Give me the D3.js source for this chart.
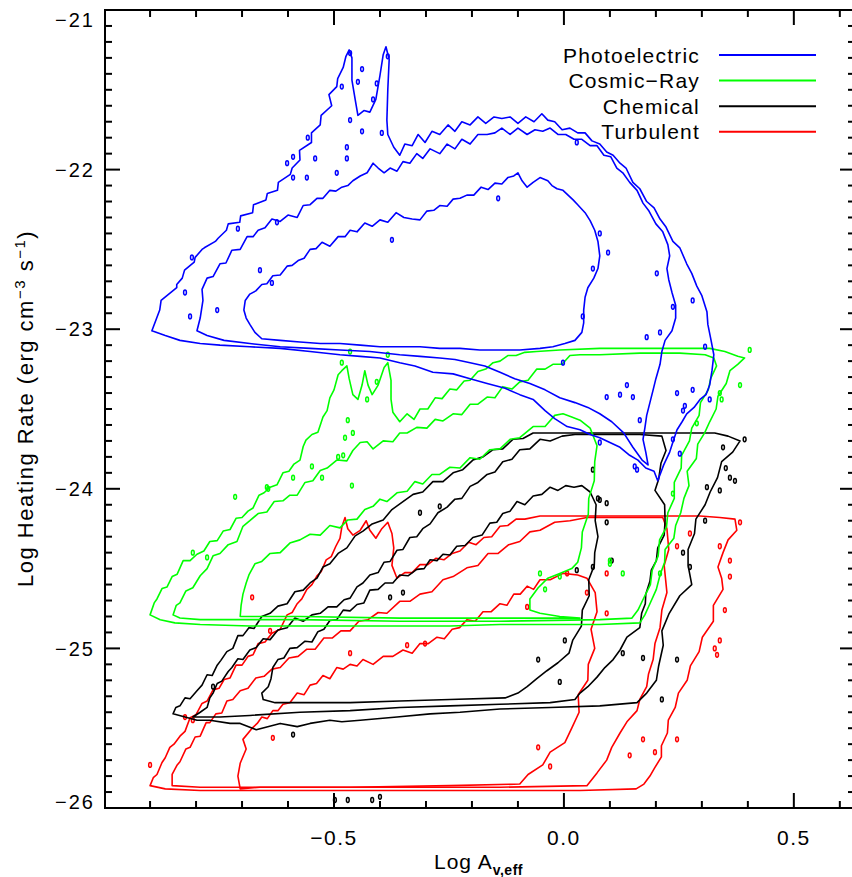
<!DOCTYPE html>
<html>
<head>
<meta charset="utf-8">
<script src="https://cdn.jsdelivr.net/npm/d3@7/dist/d3.min.js"></script>
<style>
  html, body { margin: 0; padding: 0; background: #fff; }
  svg { display: block; }
  text { font-family: "Liberation Sans", Arial, Helvetica, sans-serif; fill: #000; }
</style>
</head>
<body>
<script>
// Heating-rate vs. effective extinction: contour levels of four heating processes.

const xDomain = [-0.998, 0.633];
const yDomain = [-26, -21];

const xMajorTicks = [-0.5, 0.0, 0.5];
const xMajorLabels = ["\u22120.5", "0.0", "0.5"];
const yMajorTicks = [-26, -25, -24, -23, -22, -21];
const yMajorLabels = ["\u221226", "\u221225", "\u221224", "\u221223", "\u221222", "\u221221"];

const seriesNames = ["Photoelectric", "Cosmic\u2212Ray", "Chemical", "Turbulent"];
const seriesColors = ["#0000ff", "#00ff00", "#000000", "#ff0000"];

// ---- Photoelectric contours ----
const photoOuter = [
[-0.896,-23.01],[-0.879,-22.88],[-0.876,-22.82],[-0.842,-22.74],[-0.842,-22.72],[-0.830,-22.68],[-0.825,-22.63],
[-0.804,-22.58],[-0.802,-22.55],[-0.787,-22.50],[-0.782,-22.49],[-0.758,-22.45],[-0.752,-22.43],[-0.734,-22.38],
[-0.730,-22.34],[-0.705,-22.33],[-0.703,-22.29],[-0.677,-22.27],[-0.675,-22.22],[-0.648,-22.19],[-0.645,-22.15],
[-0.623,-22.13],[-0.621,-22.08],[-0.595,-22.03],[-0.591,-21.99],[-0.574,-21.94],[-0.575,-21.88],[-0.549,-21.83],
[-0.549,-21.77],[-0.530,-21.72],[-0.528,-21.66],[-0.505,-21.60],[-0.511,-21.53],[-0.494,-21.48],[-0.492,-21.43],
[-0.480,-21.36],[-0.474,-21.29],[-0.467,-21.25],[-0.461,-21.30],[-0.461,-21.44],[-0.454,-21.56],[-0.448,-21.66],
[-0.435,-21.63],[-0.422,-21.64],[-0.409,-21.56],[-0.400,-21.41],[-0.393,-21.28],[-0.387,-21.23],[-0.380,-21.31],
[-0.383,-21.50],[-0.385,-21.69],[-0.383,-21.78],[-0.370,-21.86],[-0.357,-21.91],[-0.346,-21.84],[-0.330,-21.85],
[-0.317,-21.78],[-0.302,-21.83],[-0.287,-21.76],[-0.270,-21.78],[-0.252,-21.72],[-0.237,-21.76],[-0.222,-21.70],
[-0.204,-21.72],[-0.187,-21.67],[-0.170,-21.71],[-0.152,-21.67],[-0.135,-21.68],[-0.117,-21.67],[-0.100,-21.71],
[-0.083,-21.67],[-0.065,-21.70],[-0.048,-21.65],[-0.035,-21.69],[-0.020,-21.70],[-0.004,-21.75],[0.013,-21.74],
[0.030,-21.77],[0.046,-21.77],[0.061,-21.82],[0.078,-21.84],[0.093,-21.89],[0.107,-21.91],[0.122,-21.96],
[0.135,-21.99],[0.150,-22.08],[0.165,-22.12],[0.180,-22.20],[0.196,-22.24],[0.209,-22.31],[0.222,-22.36],
[0.237,-22.45],[0.252,-22.49],[0.267,-22.59],[0.278,-22.65],[0.289,-22.73],[0.300,-22.79],[0.311,-22.89],
[0.313,-22.97],[0.320,-23.07],[0.326,-23.16],[0.322,-23.26],[0.317,-23.35],[0.309,-23.41],[0.296,-23.44],
[0.283,-23.49],[0.267,-23.53],[0.257,-23.58],[0.246,-23.63],[0.239,-23.69],[0.230,-23.77],[0.217,-23.85],
[0.204,-23.95],[0.196,-23.89],[0.178,-23.87],[0.161,-23.82],[0.143,-23.79],[0.122,-23.74],[0.100,-23.71],
[0.078,-23.68],[0.057,-23.66],[0.035,-23.63],[0.007,-23.61],[-0.020,-23.56],[-0.041,-23.51],[-0.067,-23.44],
[-0.096,-23.41],[-0.128,-23.37],[-0.167,-23.34],[-0.204,-23.31],[-0.241,-23.28],[-0.285,-23.27],[-0.324,-23.23],
[-0.357,-23.21],[-0.400,-23.18],[-0.443,-23.17],[-0.487,-23.16],[-0.552,-23.14],[-0.617,-23.12],[-0.683,-23.11],
[-0.748,-23.10],[-0.791,-23.09],[-0.835,-23.07],[-0.867,-23.04]
];
const photoMiddle = [
[-0.798,-23.01],[-0.791,-22.93],[-0.785,-22.82],[-0.787,-22.75],[-0.776,-22.68],[-0.763,-22.67],[-0.748,-22.59],
[-0.735,-22.585],[-0.722,-22.505],[-0.704,-22.50],[-0.689,-22.42],[-0.676,-22.42],[-0.665,-22.38],[-0.650,-22.365],
[-0.635,-22.31],[-0.617,-22.325],[-0.600,-22.285],[-0.580,-22.30],[-0.567,-22.225],[-0.552,-22.22],[-0.537,-22.18],
[-0.524,-22.18],[-0.509,-22.13],[-0.496,-22.135],[-0.483,-22.11],[-0.470,-22.10],[-0.459,-22.07],[-0.443,-22.04],
[-0.428,-22.02],[-0.415,-21.96],[-0.404,-21.99],[-0.391,-22.02],[-0.378,-21.99],[-0.363,-22.01],[-0.350,-21.95],
[-0.335,-21.96],[-0.320,-21.90],[-0.307,-21.93],[-0.291,-21.87],[-0.270,-21.90],[-0.254,-21.84],[-0.237,-21.87],
[-0.222,-21.81],[-0.204,-21.84],[-0.187,-21.78],[-0.167,-21.78],[-0.150,-21.77],[-0.135,-21.74],[-0.117,-21.78],
[-0.100,-21.74],[-0.080,-21.78],[-0.063,-21.75],[-0.046,-21.76],[-0.030,-21.74],[-0.013,-21.78],[0.004,-21.78],
[0.022,-21.81],[0.039,-21.81],[0.057,-21.85],[0.072,-21.85],[0.087,-21.91],[0.102,-21.92],[0.115,-21.99],
[0.128,-22.02],[0.143,-22.08],[0.159,-22.13],[0.172,-22.21],[0.185,-22.26],[0.200,-22.34],[0.215,-22.39],
[0.226,-22.47],[0.230,-22.54],[0.224,-22.62],[0.228,-22.69],[0.235,-22.77],[0.243,-22.85],[0.243,-22.93],
[0.235,-23.01],[0.220,-23.07],[0.213,-23.14],[0.209,-23.22],[0.200,-23.31],[0.194,-23.38],[0.187,-23.46],
[0.180,-23.54],[0.176,-23.62],[0.172,-23.69],[0.178,-23.77],[0.183,-23.85],[0.170,-23.82],[0.150,-23.74],
[0.130,-23.65],[0.104,-23.58],[0.078,-23.53],[0.052,-23.49],[0.024,-23.46],[-0.009,-23.43],[-0.041,-23.38],
[-0.074,-23.34],[-0.107,-23.31],[-0.139,-23.27],[-0.172,-23.23],[-0.204,-23.21],[-0.237,-23.19],[-0.270,-23.18],
[-0.313,-23.17],[-0.357,-23.16],[-0.422,-23.14],[-0.487,-23.13],[-0.552,-23.12],[-0.617,-23.11],[-0.683,-23.09],
[-0.739,-23.07],[-0.776,-23.04]
];
const photoInner = [
[-0.693,-22.82],[-0.683,-22.78],[-0.670,-22.76],[-0.657,-22.72],[-0.646,-22.715],[-0.633,-22.665],[-0.617,-22.66],
[-0.602,-22.605],[-0.591,-22.60],[-0.578,-22.57],[-0.565,-22.555],[-0.552,-22.50],[-0.539,-22.495],[-0.526,-22.455],
[-0.509,-22.48],[-0.491,-22.42],[-0.476,-22.42],[-0.465,-22.38],[-0.450,-22.39],[-0.433,-22.335],[-0.417,-22.355],
[-0.400,-22.315],[-0.383,-22.33],[-0.365,-22.27],[-0.348,-22.30],[-0.330,-22.31],[-0.313,-22.315],[-0.298,-22.26],
[-0.283,-22.255],[-0.270,-22.225],[-0.254,-22.23],[-0.241,-22.185],[-0.226,-22.18],[-0.211,-22.16],[-0.196,-22.16],
[-0.180,-22.11],[-0.165,-22.125],[-0.150,-22.085],[-0.135,-22.09],[-0.122,-22.05],[-0.109,-22.04],[-0.100,-22.02],
[-0.091,-22.07],[-0.080,-22.11],[-0.067,-22.08],[-0.052,-22.05],[-0.035,-22.07],[-0.026,-22.10],[-0.015,-22.12],
[-0.002,-22.13],[0.009,-22.16],[0.020,-22.19],[0.030,-22.22],[0.046,-22.27],[0.057,-22.32],[0.067,-22.38],
[0.074,-22.45],[0.078,-22.54],[0.074,-22.62],[0.065,-22.68],[0.052,-22.74],[0.046,-22.80],[0.043,-22.88],
[0.043,-22.96],[0.039,-23.02],[0.024,-23.07],[0.002,-23.09],[-0.024,-23.11],[-0.052,-23.12],[-0.096,-23.13],
[-0.139,-23.13],[-0.183,-23.13],[-0.226,-23.12],[-0.270,-23.12],[-0.313,-23.11],[-0.357,-23.11],[-0.400,-23.11],
[-0.443,-23.10],[-0.487,-23.09],[-0.530,-23.09],[-0.574,-23.08],[-0.617,-23.07],[-0.657,-23.06],[-0.672,-23.02],
[-0.683,-22.97],[-0.691,-22.93],[-0.696,-22.88]
];

// ---- Cosmic-ray contours ----
const cosmicOuter = [
[-0.900,-24.79],[-0.891,-24.715],[-0.885,-24.69],[-0.874,-24.625],[-0.863,-24.615],[-0.852,-24.55],[-0.841,-24.535],
[-0.828,-24.45],[-0.813,-24.45],[-0.798,-24.41],[-0.783,-24.39],[-0.770,-24.33],[-0.754,-24.325],[-0.741,-24.265],
[-0.726,-24.255],[-0.713,-24.185],[-0.700,-24.18],[-0.687,-24.14],[-0.676,-24.12],[-0.663,-24.04],[-0.652,-24.025],
[-0.639,-23.99],[-0.624,-23.975],[-0.611,-23.90],[-0.598,-23.89],[-0.587,-23.845],[-0.574,-23.82],[-0.567,-23.735],
[-0.561,-23.695],[-0.548,-23.66],[-0.535,-23.645],[-0.524,-23.55],[-0.515,-23.51],[-0.509,-23.43],[-0.500,-23.38],
[-0.491,-23.285],[-0.483,-23.26],[-0.472,-23.23],[-0.467,-23.31],[-0.459,-23.41],[-0.448,-23.44],[-0.439,-23.35],
[-0.433,-23.26],[-0.426,-23.35],[-0.417,-23.41],[-0.404,-23.35],[-0.391,-23.24],[-0.383,-23.21],[-0.376,-23.32],
[-0.376,-23.44],[-0.372,-23.52],[-0.357,-23.58],[-0.341,-23.53],[-0.326,-23.565],[-0.313,-23.50],[-0.296,-23.50],
[-0.280,-23.43],[-0.265,-23.435],[-0.248,-23.375],[-0.233,-23.38],[-0.217,-23.325],[-0.204,-23.32],[-0.187,-23.265],
[-0.170,-23.25],[-0.154,-23.21],[-0.139,-23.20],[-0.122,-23.165],[-0.104,-23.165],[-0.085,-23.145],[-0.059,-23.14],
[-0.009,-23.13],[0.078,-23.12],[0.165,-23.12],[0.252,-23.12],[0.317,-23.12],[0.350,-23.14],[0.378,-23.17],
[0.393,-23.18],[0.378,-23.22],[0.361,-23.26],[0.353,-23.34],[0.335,-23.42],[0.331,-23.50],[0.317,-23.58],
[0.306,-23.65],[0.291,-23.72],[0.288,-23.81],[0.268,-23.89],[0.272,-23.98],[0.261,-24.06],[0.254,-24.15],
[0.243,-24.23],[0.239,-24.31],[0.220,-24.38],[0.219,-24.46],[0.209,-24.54],[0.201,-24.63],[0.187,-24.72],
[0.176,-24.79],[0.165,-24.84],[0.078,-24.85],[-0.030,-24.85],[-0.139,-24.85],[-0.248,-24.86],[-0.357,-24.86],
[-0.465,-24.86],[-0.574,-24.86],[-0.683,-24.86],[-0.791,-24.85],[-0.846,-24.84],[-0.878,-24.82]
];
const cosmicMiddle = [
[-0.850,-24.79],[-0.843,-24.73],[-0.835,-24.715],[-0.822,-24.64],[-0.807,-24.62],[-0.791,-24.545],[-0.776,-24.50],
[-0.763,-24.42],[-0.748,-24.405],[-0.730,-24.35],[-0.711,-24.33],[-0.698,-24.235],[-0.683,-24.20],[-0.665,-24.155],
[-0.646,-24.145],[-0.630,-24.08],[-0.611,-24.075],[-0.596,-24.04],[-0.580,-24.04],[-0.563,-23.96],[-0.546,-23.95],
[-0.530,-23.885],[-0.515,-23.87],[-0.494,-23.82],[-0.472,-23.825],[-0.459,-23.76],[-0.443,-23.71],[-0.428,-23.705],
[-0.415,-23.75],[-0.393,-23.70],[-0.372,-23.705],[-0.357,-23.65],[-0.341,-23.65],[-0.320,-23.615],[-0.298,-23.62],
[-0.280,-23.565],[-0.263,-23.575],[-0.241,-23.53],[-0.222,-23.535],[-0.204,-23.47],[-0.187,-23.47],[-0.167,-23.425],
[-0.150,-23.43],[-0.133,-23.36],[-0.113,-23.375],[-0.096,-23.33],[-0.078,-23.32],[-0.059,-23.25],[-0.041,-23.25],
[-0.024,-23.22],[-0.004,-23.22],[0.013,-23.165],[0.035,-23.16],[0.078,-23.16],[0.165,-23.15],[0.252,-23.15],
[0.307,-23.16],[0.326,-23.18],[0.332,-23.23],[0.319,-23.31],[0.314,-23.38],[0.297,-23.46],[0.294,-23.54],
[0.278,-23.62],[0.273,-23.70],[0.256,-23.79],[0.255,-23.87],[0.240,-23.96],[0.240,-24.06],[0.226,-24.15],
[0.223,-24.24],[0.208,-24.32],[0.205,-24.42],[0.192,-24.51],[0.188,-24.60],[0.171,-24.70],[0.161,-24.76],
[0.148,-24.81],[0.078,-24.82],[-0.139,-24.83],[-0.357,-24.83],[-0.574,-24.82],[-0.791,-24.82],[-0.835,-24.81]
];
const cosmicInner = [
[-0.704,-24.80],[-0.702,-24.73],[-0.698,-24.66],[-0.691,-24.59],[-0.685,-24.54],[-0.672,-24.47],[-0.657,-24.455],
[-0.639,-24.405],[-0.617,-24.40],[-0.596,-24.34],[-0.574,-24.32],[-0.552,-24.285],[-0.530,-24.29],[-0.509,-24.23],
[-0.487,-24.245],[-0.470,-24.195],[-0.450,-24.19],[-0.433,-24.13],[-0.415,-24.11],[-0.400,-24.065],[-0.385,-24.08],
[-0.363,-24.025],[-0.341,-24.015],[-0.324,-23.955],[-0.307,-23.97],[-0.287,-23.91],[-0.270,-23.91],[-0.248,-23.865],
[-0.226,-23.87],[-0.204,-23.805],[-0.183,-23.815],[-0.161,-23.755],[-0.139,-23.75],[-0.117,-23.69],[-0.096,-23.68],
[-0.067,-23.61],[-0.041,-23.61],[-0.020,-23.54],[-0.002,-23.53],[0.017,-23.55],[0.035,-23.57],[0.057,-23.62],
[0.072,-23.73],[0.067,-23.83],[0.066,-23.95],[0.054,-24.06],[0.053,-24.16],[0.040,-24.27],[0.038,-24.37],
[0.030,-24.46],[0.017,-24.50],[-0.009,-24.53],[-0.035,-24.56],[-0.056,-24.62],[-0.074,-24.69],[-0.074,-24.76],
[-0.052,-24.78],[-0.009,-24.80],[0.035,-24.81],[-0.139,-24.81],[-0.357,-24.81],[-0.574,-24.80]
];

// ---- Chemical contours ----
const chemOuter = [
[-0.850,-25.41],[-0.844,-25.37],[-0.835,-25.36],[-0.824,-25.31],[-0.813,-25.315],[-0.798,-25.265],[-0.787,-25.23],
[-0.776,-25.165],[-0.765,-25.17],[-0.754,-25.105],[-0.746,-25.075],[-0.733,-25.02],[-0.720,-25.00],[-0.709,-24.92],
[-0.698,-24.92],[-0.685,-24.87],[-0.674,-24.875],[-0.657,-24.80],[-0.639,-24.78],[-0.622,-24.735],[-0.602,-24.72],
[-0.585,-24.645],[-0.567,-24.635],[-0.552,-24.59],[-0.537,-24.56],[-0.524,-24.49],[-0.509,-24.47],[-0.491,-24.405],
[-0.472,-24.37],[-0.454,-24.295],[-0.437,-24.265],[-0.417,-24.22],[-0.393,-24.195],[-0.374,-24.13],[-0.350,-24.08],
[-0.328,-24.035],[-0.307,-24.02],[-0.285,-23.955],[-0.263,-23.955],[-0.241,-23.90],[-0.220,-23.88],[-0.198,-23.82],
[-0.176,-23.80],[-0.154,-23.755],[-0.133,-23.75],[-0.111,-23.69],[-0.089,-23.685],[-0.067,-23.65],[-0.009,-23.65],
[0.078,-23.65],[0.165,-23.65],[0.252,-23.65],[0.328,-23.65],[0.357,-23.67],[0.383,-23.70],[0.367,-23.77],
[0.343,-23.83],[0.334,-23.93],[0.318,-24.02],[0.307,-24.10],[0.287,-24.19],[0.284,-24.28],[0.270,-24.38],
[0.270,-24.48],[0.278,-24.60],[0.252,-24.67],[0.229,-24.78],[0.213,-24.89],[0.216,-24.98],[0.206,-25.11],
[0.201,-25.20],[0.180,-25.28],[0.159,-25.34],[0.078,-25.36],[-0.030,-25.37],[-0.139,-25.38],[-0.226,-25.40],
[-0.291,-25.41],[-0.363,-25.43],[-0.443,-25.45],[-0.483,-25.46],[-0.509,-25.45],[-0.552,-25.47],[-0.580,-25.49],
[-0.617,-25.47],[-0.669,-25.51],[-0.704,-25.47],[-0.726,-25.47],[-0.770,-25.45],[-0.798,-25.45],[-0.824,-25.43]
];
const chemMiddle = [
[-0.807,-25.43],[-0.791,-25.40],[-0.776,-25.37],[-0.770,-25.31],[-0.763,-25.28],[-0.754,-25.22],[-0.744,-25.205],
[-0.730,-25.145],[-0.722,-25.12],[-0.709,-25.065],[-0.698,-25.07],[-0.683,-25.01],[-0.669,-24.995],[-0.654,-24.94],
[-0.639,-24.945],[-0.622,-24.885],[-0.602,-24.87],[-0.585,-24.81],[-0.567,-24.83],[-0.548,-24.79],[-0.530,-24.78],
[-0.513,-24.74],[-0.494,-24.74],[-0.478,-24.695],[-0.465,-24.685],[-0.450,-24.615],[-0.437,-24.59],[-0.422,-24.54],
[-0.404,-24.525],[-0.391,-24.46],[-0.378,-24.455],[-0.363,-24.385],[-0.350,-24.38],[-0.335,-24.305],[-0.320,-24.30],
[-0.307,-24.25],[-0.291,-24.22],[-0.274,-24.15],[-0.254,-24.115],[-0.237,-24.065],[-0.222,-24.06],[-0.204,-23.985],
[-0.187,-23.96],[-0.167,-23.91],[-0.150,-23.895],[-0.133,-23.83],[-0.113,-23.815],[-0.096,-23.755],[-0.074,-23.75],
[-0.052,-23.69],[-0.030,-23.70],[-0.004,-23.67],[0.024,-23.66],[0.078,-23.66],[0.165,-23.66],[0.213,-23.67],
[0.222,-23.76],[0.211,-23.84],[0.206,-23.94],[0.198,-24.01],[0.219,-24.10],[0.220,-24.20],[0.218,-24.29],
[0.204,-24.37],[0.201,-24.45],[0.190,-24.51],[0.187,-24.58],[0.178,-24.66],[0.177,-24.72],[0.169,-24.78],
[0.165,-24.87],[0.137,-24.93],[0.122,-25.01],[0.107,-25.07],[0.089,-25.12],[0.072,-25.18],[0.052,-25.24],
[0.035,-25.28],[0.024,-25.32],[-0.030,-25.34],[-0.139,-25.35],[-0.248,-25.36],[-0.357,-25.37],[-0.465,-25.39],
[-0.574,-25.40],[-0.683,-25.42],[-0.748,-25.43]
];
const chemInner = [
[-0.654,-25.32],[-0.657,-25.28],[-0.643,-25.24],[-0.637,-25.19],[-0.633,-25.12],[-0.622,-25.07],[-0.609,-25.06],
[-0.596,-25.00],[-0.580,-24.995],[-0.563,-24.955],[-0.548,-24.96],[-0.535,-24.895],[-0.522,-24.88],[-0.509,-24.825],
[-0.494,-24.82],[-0.480,-24.76],[-0.465,-24.765],[-0.450,-24.725],[-0.435,-24.715],[-0.422,-24.635],[-0.404,-24.63],
[-0.389,-24.59],[-0.372,-24.59],[-0.357,-24.54],[-0.339,-24.545],[-0.320,-24.505],[-0.304,-24.50],[-0.291,-24.445],
[-0.276,-24.45],[-0.263,-24.41],[-0.248,-24.415],[-0.233,-24.36],[-0.215,-24.355],[-0.198,-24.305],[-0.178,-24.29],
[-0.161,-24.215],[-0.146,-24.21],[-0.133,-24.155],[-0.117,-24.14],[-0.102,-24.08],[-0.085,-24.10],[-0.067,-24.045],
[-0.048,-24.035],[-0.030,-23.99],[-0.013,-24.01],[0.004,-23.98],[0.022,-23.99],[0.039,-23.98],[0.057,-24.02],
[0.070,-24.10],[0.068,-24.20],[0.074,-24.30],[0.067,-24.40],[0.066,-24.48],[0.054,-24.57],[0.055,-24.67],
[0.040,-24.76],[0.038,-24.86],[0.019,-24.95],[0.011,-25.03],[-0.013,-25.09],[-0.037,-25.14],[-0.059,-25.19],
[-0.080,-25.24],[-0.100,-25.28],[-0.128,-25.31],[-0.248,-25.32],[-0.357,-25.33],[-0.465,-25.34],[-0.574,-25.34],
[-0.628,-25.34]
];

// ---- Turbulent contours ----
const turbOuter = [
[-0.900,-25.86],[-0.893,-25.81],[-0.885,-25.79],[-0.874,-25.715],[-0.867,-25.685],[-0.857,-25.62],[-0.848,-25.60],
[-0.835,-25.55],[-0.824,-25.52],[-0.813,-25.435],[-0.800,-25.415],[-0.787,-25.345],[-0.776,-25.33],[-0.763,-25.26],
[-0.750,-25.25],[-0.739,-25.195],[-0.726,-25.185],[-0.713,-25.105],[-0.700,-25.105],[-0.687,-25.05],[-0.676,-25.04],
[-0.665,-24.97],[-0.650,-24.96],[-0.635,-24.905],[-0.617,-24.88],[-0.602,-24.79],[-0.591,-24.775],[-0.580,-24.72],
[-0.570,-24.69],[-0.559,-24.63],[-0.548,-24.60],[-0.537,-24.545],[-0.528,-24.52],[-0.517,-24.445],[-0.506,-24.425],
[-0.496,-24.36],[-0.487,-24.31],[-0.483,-24.24],[-0.476,-24.18],[-0.470,-24.25],[-0.459,-24.29],[-0.443,-24.26],
[-0.430,-24.20],[-0.422,-24.26],[-0.409,-24.31],[-0.396,-24.25],[-0.383,-24.21],[-0.374,-24.28],[-0.370,-24.37],
[-0.374,-24.48],[-0.363,-24.56],[-0.346,-24.525],[-0.330,-24.525],[-0.313,-24.475],[-0.296,-24.475],[-0.278,-24.435],
[-0.261,-24.445],[-0.243,-24.405],[-0.226,-24.39],[-0.207,-24.335],[-0.191,-24.35],[-0.174,-24.305],[-0.157,-24.30],
[-0.139,-24.235],[-0.122,-24.23],[-0.104,-24.19],[-0.085,-24.19],[-0.052,-24.17],[0.035,-24.17],[0.122,-24.17],
[0.209,-24.17],[0.296,-24.17],[0.339,-24.18],[0.372,-24.19],[0.376,-24.26],[0.357,-24.32],[0.346,-24.40],
[0.335,-24.49],[0.343,-24.56],[0.346,-24.63],[0.325,-24.73],[0.325,-24.83],[0.301,-24.93],[0.294,-25.02],
[0.275,-25.11],[0.268,-25.20],[0.249,-25.28],[0.242,-25.37],[0.227,-25.45],[0.225,-25.53],[0.212,-25.61],
[0.212,-25.68],[0.197,-25.75],[0.187,-25.80],[0.174,-25.85],[0.157,-25.88],[0.035,-25.89],[-0.139,-25.89],
[-0.357,-25.89],[-0.574,-25.89],[-0.791,-25.89],[-0.867,-25.88]
];
const turbMiddle = [
[-0.852,-25.86],[-0.852,-25.79],[-0.841,-25.73],[-0.835,-25.71],[-0.822,-25.63],[-0.813,-25.62],[-0.802,-25.555],
[-0.791,-25.55],[-0.778,-25.465],[-0.770,-25.465],[-0.757,-25.41],[-0.744,-25.405],[-0.733,-25.33],[-0.720,-25.32],
[-0.704,-25.265],[-0.687,-25.25],[-0.670,-25.185],[-0.652,-25.175],[-0.635,-25.13],[-0.617,-25.12],[-0.598,-25.06],
[-0.578,-25.05],[-0.559,-25.005],[-0.541,-25.005],[-0.522,-24.935],[-0.504,-24.935],[-0.485,-24.89],[-0.465,-24.89],
[-0.446,-24.83],[-0.426,-24.82],[-0.404,-24.775],[-0.385,-24.78],[-0.357,-24.705],[-0.335,-24.705],[-0.313,-24.66],
[-0.287,-24.645],[-0.263,-24.57],[-0.241,-24.55],[-0.211,-24.495],[-0.187,-24.48],[-0.165,-24.405],[-0.143,-24.405],
[-0.120,-24.35],[-0.096,-24.33],[-0.074,-24.27],[-0.052,-24.26],[-0.020,-24.21],[0.013,-24.20],[0.050,-24.18],
[0.130,-24.18],[0.215,-24.18],[0.224,-24.25],[0.228,-24.38],[0.218,-24.48],[0.224,-24.65],[0.213,-24.76],
[0.209,-24.87],[0.198,-24.97],[0.194,-25.07],[0.184,-25.16],[0.180,-25.24],[0.165,-25.32],[0.159,-25.39],
[0.137,-25.46],[0.122,-25.53],[0.104,-25.62],[0.093,-25.70],[0.072,-25.78],[0.050,-25.86],[-0.139,-25.87],
[-0.357,-25.87],[-0.574,-25.87],[-0.791,-25.87]
];
const turbInner = [
[-0.704,-25.88],[-0.709,-25.80],[-0.704,-25.72],[-0.691,-25.63],[-0.698,-25.57],[-0.678,-25.50],[-0.667,-25.47],
[-0.657,-25.43],[-0.645,-25.44],[-0.633,-25.39],[-0.622,-25.39],[-0.611,-25.35],[-0.596,-25.34],[-0.580,-25.28],
[-0.565,-25.29],[-0.552,-25.23],[-0.538,-25.22],[-0.524,-25.17],[-0.509,-25.19],[-0.494,-25.12],[-0.480,-25.13],
[-0.465,-25.10],[-0.450,-25.11],[-0.437,-25.07],[-0.415,-25.10],[-0.393,-25.05],[-0.372,-25.05],[-0.350,-25.01],
[-0.330,-25.03],[-0.313,-24.97],[-0.295,-24.97],[-0.276,-24.93],[-0.260,-24.94],[-0.243,-24.88],[-0.227,-24.87],
[-0.211,-24.82],[-0.193,-24.83],[-0.176,-24.77],[-0.158,-24.77],[-0.139,-24.72],[-0.124,-24.73],[-0.109,-24.66],
[-0.095,-24.66],[-0.080,-24.61],[-0.066,-24.63],[-0.052,-24.57],[-0.030,-24.57],[-0.002,-24.53],[0.030,-24.54],
[0.050,-24.56],[0.068,-24.65],[0.072,-24.77],[0.059,-24.88],[0.067,-25.00],[0.053,-25.10],[0.052,-25.20],
[0.031,-25.29],[0.033,-25.40],[0.017,-25.50],[0.002,-25.59],[-0.030,-25.65],[-0.046,-25.73],[-0.078,-25.79],
[-0.096,-25.85],[-0.248,-25.86],[-0.465,-25.87],[-0.661,-25.87]
];

// Small isolated contour islands for each process
const photoIslands = [
[-0.465,-21.27],[-0.383,-21.29],[-0.439,-21.37],[-0.483,-21.48],[-0.448,-21.45],[-0.407,-21.46],[-0.415,-21.56],
[-0.465,-21.69],[-0.439,-21.76],[-0.396,-21.77],[-0.472,-21.86],[-0.472,-21.93],[-0.494,-22.02],[-0.541,-21.93],
[-0.557,-21.80],[-0.589,-21.92],[-0.602,-21.96],[-0.709,-22.37],[-0.589,-22.05],[-0.559,-22.05],[-0.624,-22.33],
[-0.661,-22.63],[-0.635,-22.71],[-0.809,-22.55],[-0.813,-22.92],[-0.754,-22.88],[-0.824,-22.77],[-0.374,-22.44],
[0.028,-21.83],[-0.143,-22.18],[0.078,-22.40],[0.096,-22.52],[0.063,-22.62],[0.041,-22.92],[0.202,-22.65],
[0.237,-22.86],[0.280,-22.82],[0.180,-23.05],[0.209,-23.02],[0.307,-23.11],[-0.002,-23.21],[0.122,-23.41],
[0.165,-23.57],[0.263,-23.48],[0.137,-23.35],[0.259,-23.51],[0.159,-23.88],
[0.093,-23.425],[0.150,-23.425],[0.246,-23.40],[0.280,-23.38],[0.317,-23.44],[0.237,-23.69],[0.252,-23.78],
[0.154,-23.86],[0.078,-23.71]
];
const cosmicIslands = [
[-0.465,-23.14],[-0.383,-23.16],[-0.483,-23.21],[-0.470,-23.57],[-0.476,-23.68],[-0.480,-23.79],[-0.459,-23.65],
[-0.461,-23.98],[-0.491,-23.80],[-0.589,-23.93],[-0.643,-24.00],[-0.715,-24.05],[-0.807,-24.40],[-0.776,-24.43],
[-0.548,-23.86],[-0.526,-23.93],[-0.428,-23.44],[-0.407,-23.33],[0.404,-23.13],[0.383,-23.35],[0.343,-23.44],
[-0.041,-24.63],[0.100,-24.45],
[0.339,-23.40],[0.289,-23.59],[0.237,-24.03],[0.209,-24.53],[-0.009,-24.55],[-0.052,-24.53],[0.100,-24.47],
[0.128,-24.53],[-0.646,-23.99]
];
const chemIslands = [
[-0.056,-25.07],[-0.009,-25.21],[0.128,-25.03],[0.172,-25.06],[0.246,-25.07],[0.213,-25.32],[0.002,-24.95],
[-0.498,-25.95],[-0.470,-25.95],[-0.400,-25.93],[-0.417,-25.95],[0.352,-23.87],[0.372,-23.95],[0.307,-24.20],
[0.104,-24.45],[0.074,-24.06],[0.093,-24.09],[0.393,-23.69],
[0.346,-23.74],[0.339,-24.01],[0.311,-23.99],[0.361,-23.93],[0.259,-24.40],[0.274,-24.49],[0.063,-23.88],
[0.078,-24.07],[0.093,-24.21],[0.063,-24.49],[0.028,-24.51],[-0.589,-25.54],[-0.313,-24.15],[-0.270,-24.11],
[-0.350,-24.65],[-0.378,-24.68],[-0.763,-25.24]
];
const turbIslands = [
[0.333,-25.04],[0.246,-25.57],[0.172,-25.57],[0.198,-25.65],[0.143,-25.67],[-0.056,-25.62],[-0.030,-25.74],
[-0.080,-24.74],[0.350,-24.76],[0.361,-24.45],[0.383,-24.21],[0.328,-25.00],[0.093,-24.53],[0.007,-24.53],
[-0.824,-25.43],[-0.639,-24.89],
[0.339,-24.36],[0.361,-24.55],[0.274,-24.28],[0.246,-24.36],[0.050,-24.65],[0.093,-24.78],[0.339,-24.95],
[-0.900,-25.73],[-0.807,-25.45],[-0.678,-24.68],[-0.465,-25.03],[-0.341,-24.98],[-0.302,-24.97],[-0.633,-25.56]
];

const seriesContours = [
  [photoOuter, photoMiddle, photoInner],
  [cosmicOuter, cosmicMiddle, cosmicInner],
  [chemOuter, chemMiddle, chemInner],
  [turbOuter, turbMiddle, turbInner]
];
const seriesIslands = [photoIslands, cosmicIslands, chemIslands, turbIslands];

// ---- layout ----
const width = 852, height = 877;
const plot = { left: 105, right: 855, top: 10, bottom: 808 };

const svg = d3.select("body").append("svg")
  .attr("width", width).attr("height", height);

const x = d3.scaleLinear().domain(xDomain).range([plot.left, plot.right]);
const y = d3.scaleLinear().domain(yDomain).range([plot.bottom, plot.top]);

svg.append("defs").append("clipPath").attr("id", "plot-clip")
  .append("rect")
  .attr("x", plot.left).attr("y", plot.top)
  .attr("width", plot.right - plot.left).attr("height", plot.bottom - plot.top);

const g = svg.append("g").attr("clip-path", "url(#plot-clip)");

const contourLine = d3.line()
  .x(d => x(d[0]))
  .y(d => y(d[1]))
  .curve(d3.curveLinearClosed);

// Draw back-to-front: turbulent, chemical, cosmic-ray, photoelectric
[3, 2, 1, 0].forEach(i => {
  const layer = g.append("g");
  layer.selectAll("path.level")
    .data(seriesContours[i])
    .join("path")
    .attr("class", "level")
    .attr("d", contourLine)
    .attr("fill", "none")
    .attr("stroke", seriesColors[i])
    .attr("stroke-width", 1.6)
    .attr("stroke-linejoin", "round");
  layer.selectAll("ellipse.island")
    .data(seriesIslands[i])
    .join("ellipse")
    .attr("class", "island")
    .attr("cx", d => x(d[0]))
    .attr("cy", d => y(d[1]))
    .attr("rx", 1.4).attr("ry", 2.4)
    .attr("fill", "none")
    .attr("stroke", seriesColors[i])
    .attr("stroke-width", 1.5);
});

// ---- axes ----
const axes = svg.append("g").attr("stroke", "#000").attr("stroke-width", 2);

axes.append("rect")
  .attr("x", plot.left).attr("y", plot.top)
  .attr("width", plot.right - plot.left).attr("height", plot.bottom - plot.top)
  .attr("fill", "none");

const majorLen = 15, minorLen = 7;
const eps = 1e-6;
const xMinor = d3.range(-0.9, 0.65, 0.1).map(v => Math.round(v * 10) / 10)
  .filter(v => v >= xDomain[0] && v <= xDomain[1]);
const yMinor = d3.range(-26, -20.95, 0.1).map(v => Math.round(v * 10) / 10);

xMinor.forEach(v => {
  const isMajor = xMajorTicks.some(t => Math.abs(t - v) < eps);
  const len = isMajor ? majorLen : minorLen;
  const px = x(v);
  axes.append("line").attr("x1", px).attr("x2", px).attr("y1", plot.bottom).attr("y2", plot.bottom - len);
  axes.append("line").attr("x1", px).attr("x2", px).attr("y1", plot.top).attr("y2", plot.top + len);
});
yMinor.forEach(v => {
  const isMajor = yMajorTicks.some(t => Math.abs(t - v) < eps);
  const len = isMajor ? majorLen : minorLen;
  const py = y(v);
  axes.append("line").attr("x1", plot.left).attr("x2", plot.left + len).attr("y1", py).attr("y2", py);
  axes.append("line").attr("x1", plot.right).attr("x2", plot.right - len).attr("y1", py).attr("y2", py);
});

// tick labels
svg.append("g").selectAll("text")
  .data(xMajorTicks)
  .join("text")
  .attr("x", d => x(d))
  .attr("y", 845)
  .attr("text-anchor", "middle")
  .attr("font-size", 21)
  .attr("letter-spacing", 1.5)
  .text((d, i) => xMajorLabels[i]);

svg.append("g").selectAll("text")
  .data(yMajorTicks)
  .join("text")
  .attr("x", 95)
  .attr("y", d => Math.min(Math.max(y(d), plot.top + 10), plot.bottom - 6))
  .attr("dy", "0.36em")
  .attr("text-anchor", "end")
  .attr("font-size", 20)
  .attr("letter-spacing", 2)
  .text((d, i) => yMajorLabels[i]);

// axis titles
const xTitle = svg.append("text")
  .attr("x", 434).attr("y", 869)
  .attr("font-size", 21)
  .attr("letter-spacing", 1);
xTitle.append("tspan").text("Log A");
xTitle.append("tspan").attr("dy", 6).attr("font-size", 14).attr("font-weight", "bold").attr("letter-spacing", 0.5).text("v,eff");

const yTitle = svg.append("text")
  .attr("transform", "translate(33,587) rotate(-90)")
  .attr("text-anchor", "start")
  .attr("font-size", 22)
  .attr("letter-spacing", 1.5);
yTitle.append("tspan").text("Log Heating Rate (erg cm");
yTitle.append("tspan").attr("dy", -8).attr("font-size", 15).text("\u22123");
yTitle.append("tspan").attr("dy", 8).text(" s");
yTitle.append("tspan").attr("dy", -8).attr("font-size", 15).text("\u22121");
yTitle.append("tspan").attr("dy", 8).text(")");

// legend
const legend = svg.append("g");
seriesNames.forEach((name, i) => {
  const ly = 55 + i * 25.6;
  legend.append("text")
    .attr("x", 700).attr("y", ly)
    .attr("dy", "0.36em")
    .attr("text-anchor", "end")
    .attr("font-size", 21)
    .attr("letter-spacing", 1.2)
    .text(name);
  legend.append("line")
    .attr("x1", 719).attr("x2", 816)
    .attr("y1", ly).attr("y2", ly)
    .attr("stroke", seriesColors[i])
    .attr("stroke-width", 2);
});
</script>
</body>
</html>
